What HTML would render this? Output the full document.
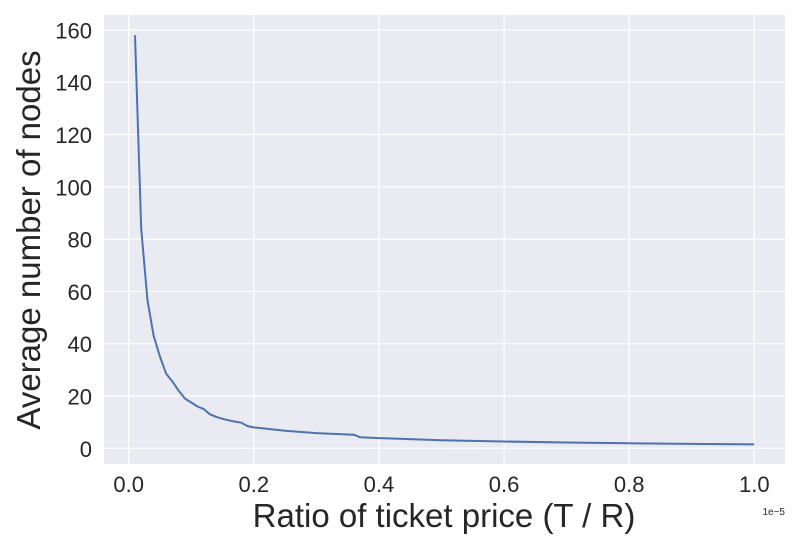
<!DOCTYPE html>
<html><head><meta charset="utf-8"><style>
body{margin:0;background:#fff;}
svg text{font-family:"Liberation Sans",sans-serif;fill:#262626;}
</style></head><body>
<svg id="chart" width="800" height="550">
<rect x="104" y="15" width="681" height="449" fill="#eaeaf2"/>
<g id="grid"></g><g id="ticks"></g><g id="series"></g>
<text x="444" y="527" font-size="33" text-anchor="middle">Ratio of ticket price (T / R)</text>
<text transform="translate(40,240) rotate(-90)" font-size="33" text-anchor="middle">Average number of nodes</text>
<text x="785" y="515" font-size="10" text-anchor="end">1e−5</text>
</svg>
<script>
const xVals=[0.01,0.02,0.03,0.04,0.05,0.06,0.07,0.08,0.09,0.10,0.11,0.12,0.13,0.14,0.15,0.16,0.17,0.18,0.19,0.20,0.25,0.30,0.36,0.37,0.40,0.50,0.60,0.70,0.80,0.90,1.00];
const yVals=[158,84,56.5,43,35,28.5,25.5,22,19,17.5,16,15,13,12,11.3,10.7,10.2,9.8,8.5,8.0,6.7,5.8,5.2,4.2,3.9,3.1,2.6,2.2,1.9,1.7,1.5];
const xTicks=[0,0.2,0.4,0.6,0.8,1.0];
const xTickLabels=["0.0","0.2","0.4","0.6","0.8","1.0"];
const yTicks=[0,20,40,60,80,100,120,140,160];
const NS="http://www.w3.org/2000/svg";
const sx=v=>128.7+v*625.6;
const sy=v=>448.3-v*2.615;
const grid=document.getElementById('grid'),ticks=document.getElementById('ticks'),series=document.getElementById('series');
function mk(tag,attrs,parent){const e=document.createElementNS(NS,tag);for(const k in attrs)e.setAttribute(k,attrs[k]);parent.appendChild(e);return e;}
xTicks.forEach((t,i)=>{
  const l=mk('line',{x1:sx(t),x2:sx(t),y1:15,y2:464,stroke:'#fff','stroke-width':1.2},grid);
  
  
  const tx=mk('text',{x:sx(t),y:492,'font-size':22,'text-anchor':'middle'},ticks);
  tx.textContent=xTickLabels[i];
  
  
});
yTicks.forEach(t=>{
  const l=mk('line',{x1:104,x2:785,y1:sy(t),y2:sy(t),stroke:'#fff','stroke-width':1.2},grid);
  
  
  const tx=mk('text',{x:92,y:sy(t)+8.5,'font-size':22,'text-anchor':'end'},ticks);
  tx.textContent=String(t);
  
  
});
const d=xVals.map((x,i)=>(i?'L':'M')+sx(x).toFixed(1)+','+sy(yVals[i]).toFixed(1)).join(' ');
const p=mk('path',{d:d,fill:'none',stroke:'#4c72b0','stroke-width':2,'stroke-linejoin':'round'},series);


</script>
</body></html>
